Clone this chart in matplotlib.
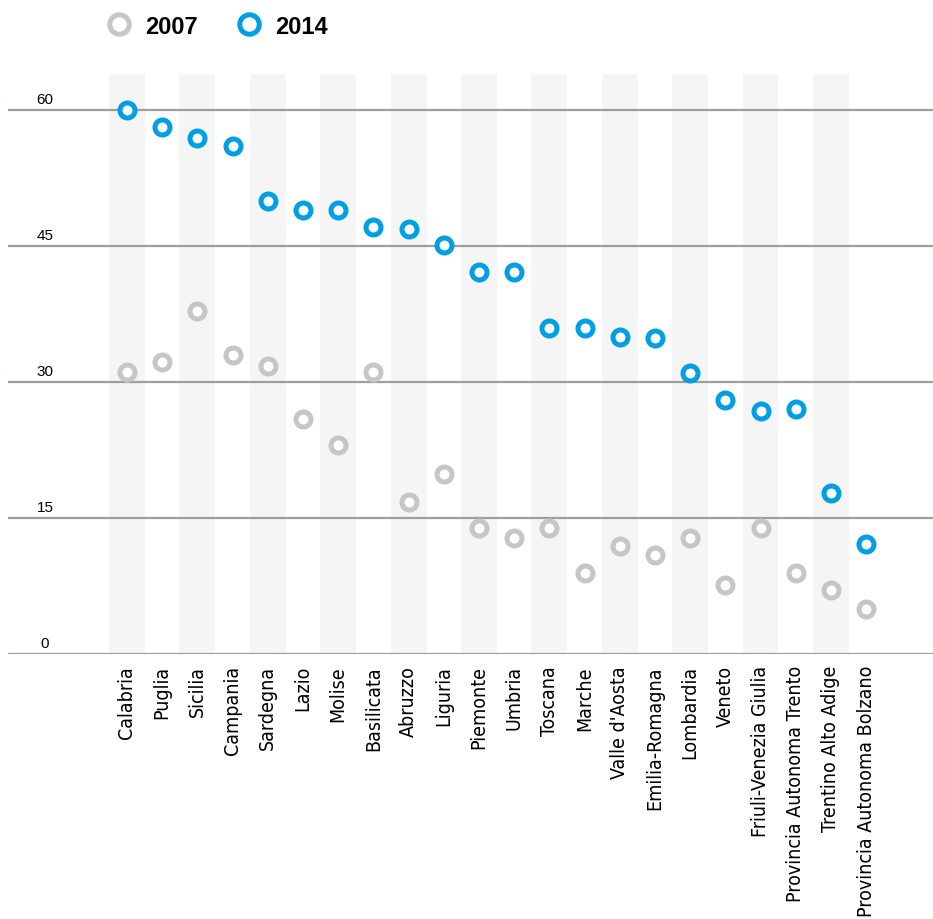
import matplotlib.pyplot as plt
import numpy as np
from matplotlib import font_manager

regions = ["Calabria", "Puglia", "Sicilia", "Campania", "Sardegna", "Lazio",
           "Molise", "Basilicata", "Abruzzo", "Liguria", "Piemonte", "Umbria",
           "Toscana", "Marche", "Valle d'Aosta", "Emilia-Romagna", "Lombardia",
           "Veneto", "Friuli-Venezia Giulia", "Provincia Autonoma Trento",
           "Trentino Alto Adige", "Provincia Autonoma Bolzano"]
v2007 = [31.1, 32.2, 37.9, 33.0, 31.8, 25.9, 23.1, 31.1, 16.8, 19.9, 13.9,
         12.8, 13.9, 8.9, 11.9, 10.9, 12.8, 7.6, 13.9, 8.9, 7.1, 5.0]
v2014 = [60.0, 58.1, 56.9, 56.1, 50.0, 49.0, 49.0, 47.1, 46.9, 45.1, 42.1,
         42.1, 36.0, 36.0, 35.0, 34.9, 31.0, 28.0, 26.8, 27.0, 17.8, 12.1]
yticks = [0, 15, 30, 45, 60]

blue = '#009fe3'
gray = '#c6c6c6'

names = {f.name for f in font_manager.fontManager.ttflist}
cond = [f for f in font_manager.fontManager.ttflist
        if f.name == 'DejaVu Sans' and f.stretch == 'condensed']
if 'Liberation Sans Narrow' in names:
    lab_font = dict(family='Liberation Sans Narrow', fontsize=16)
elif cond:
    lab_font = dict(family='DejaVu Sans', fontstretch='condensed', fontsize=14)
else:
    lab_font = dict(family='Roboto', fontsize=14)

fig = plt.figure(figsize=(9.33, 9.2), dpi=100)
ax = fig.add_axes([8 / 933, 265 / 920, 925 / 933, 580 / 920])

x = np.arange(len(regions))
ax.set_xlim(-3.38, 22.9)
ax.set_ylim(0, 64)

# alternating background stripes
for i in x[::2]:
    ax.axvspan(i - 0.51, i + 0.51, color='#f5f5f5', zorder=0, lw=0)

for t in yticks:
    ax.axhline(t, color='#a39c98', lw=1.6, zorder=1)
    ax.annotate(str(t), (0.04, t), xycoords=ax.get_yaxis_transform(),
                xytext=(0, 3), textcoords='offset points',
                ha='center', va='bottom', fontsize=11, family='Liberation Sans')

ms, mew = 10.8, 3.6
l1, = ax.plot(x, v2007, 'o', ms=ms, mew=mew, mfc='white', mec=gray,
              zorder=3, label='2007')
l2, = ax.plot(x, v2014, 'o', ms=ms, mew=mew, mfc='white', mec=blue,
              zorder=4, label='2014')

ax.set_xticks(x)
ax.set_xticklabels(regions, rotation=90, **lab_font)
ax.tick_params(axis='x', length=0, pad=8)
ax.set_yticks([])
for s in ax.spines.values():
    s.set_visible(False)

fig.legend(handles=[l1, l2], loc='center left', bbox_to_anchor=(107 / 933, 1 - 27 / 920),
           ncol=2, frameon=False, handlelength=1.0, handletextpad=0.6,
           columnspacing=1.7, borderpad=0, borderaxespad=0, markerscale=1.3,
           prop={'family': 'Liberation Sans', 'weight': 'bold', 'size': 17})

fig.savefig('out.png', dpi=100)
